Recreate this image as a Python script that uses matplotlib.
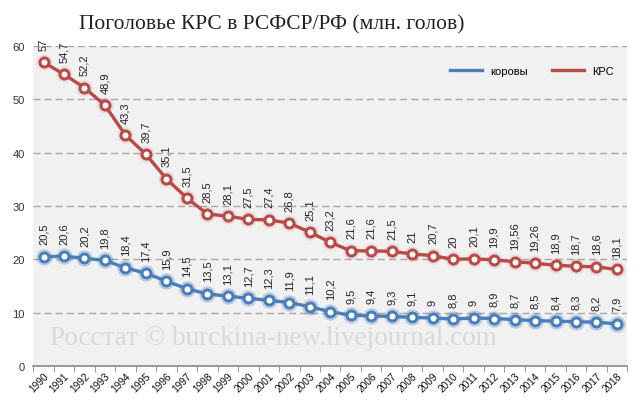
import matplotlib
matplotlib.use("Agg")
import numpy as np
import matplotlib.pyplot as plt

years = [str(y) for y in range(1990, 2019)]

krs = [57, 54.7, 52.2, 48.9, 43.3, 39.7, 35.1, 31.5, 28.5, 28.1, 27.5, 27.4, 26.8, 25.1,
       23.2, 21.6, 21.6, 21.5, 21, 20.7, 20, 20.1, 19.9, 19.56, 19.26, 18.9, 18.7, 18.6, 18.1]
cows = [20.5, 20.6, 20.2, 19.8, 18.4, 17.4, 15.9, 14.5, 13.5, 13.1, 12.7, 12.3, 11.9, 11.1,
        10.2, 9.5, 9.4, 9.3, 9.1, 9, 8.8, 9, 8.9, 8.7, 8.5, 8.4, 8.3, 8.2, 7.9]

red = "#b84a47"
blue = "#4a7ebb"

fig = plt.figure(figsize=(6.4, 4.1), dpi=100)
ax = fig.add_axes([0.052, 0.105, 0.928, 0.78])
ax.set_facecolor("#f1f1f1")

x = np.arange(len(years))


def fmt(v):
    return f"{v:g}".replace(".", ",")


for vals, col, name, halo in [(cows, blue, "коровы", 0.22), (krs, red, "КРС", 0.08)]:
    # soft halo behind markers
    ax.plot(x, vals, "o", ms=11, color=col, alpha=halo, zorder=2)
    ax.plot(x, vals, "-", lw=2.4, color=col, label=name, zorder=3)
    ax.plot(x, vals, "o", ms=6.5, mfc="white", mec=col, mew=2.2, zorder=4)
    for xi, v in zip(x, vals):
        ax.annotate(fmt(v), (xi, v), xytext=(0, 9), textcoords="offset points",
                    rotation=90, ha="center", va="bottom", fontsize=8,
                    color="#222222", family="Liberation Sans")

ax.set_xlim(-0.5, len(years) - 0.5)
ax.set_ylim(0, 60)
ax.set_yticks(range(0, 61, 10))
ax.yaxis.grid(True, ls=(0, (5, 3)), color="#a6a6a6", lw=1)
ax.set_axisbelow(True)

ax.set_xticks(x)
ax.set_xticklabels(years, rotation=45, ha="right", rotation_mode="anchor",
                   fontsize=7.3, family="Liberation Sans", color="#111111")
ax.set_xticks(np.arange(-0.5, len(years)), minor=True)
ax.tick_params(axis="x", which="major", length=0, pad=3)
ax.tick_params(axis="x", which="minor", length=4, color="#888888")
ax.tick_params(axis="y", length=0, labelsize=8, pad=6, labelcolor="#333333")
for lab in ax.get_yticklabels():
    lab.set_family("Liberation Sans")

for side in ["top", "left", "right"]:
    ax.spines[side].set_visible(False)
ax.spines["bottom"].set_color("#888888")
ax.spines["bottom"].set_linewidth(1.2)

ax.legend(loc="upper right", ncol=2, frameon=False,
          bbox_to_anchor=(0.995, 0.97), handlelength=2.8, columnspacing=2.2,
          prop={"family": "Liberation Sans", "size": 8})

ax.text(0.028, 0.09, "Росстат © burckina-new.livejournal.com", transform=ax.transAxes,
        fontsize=19.5, color="#d9d9d9", family="Liberation Serif", ha="left", va="center",
        zorder=1)

fig.text(0.425, 0.94, "Поголовье КРС в РСФСР/РФ (млн. голов)", ha="center", va="center",
         fontsize=15.5, family="Liberation Serif", color="#222222")

fig.savefig("out.png", dpi=100)
